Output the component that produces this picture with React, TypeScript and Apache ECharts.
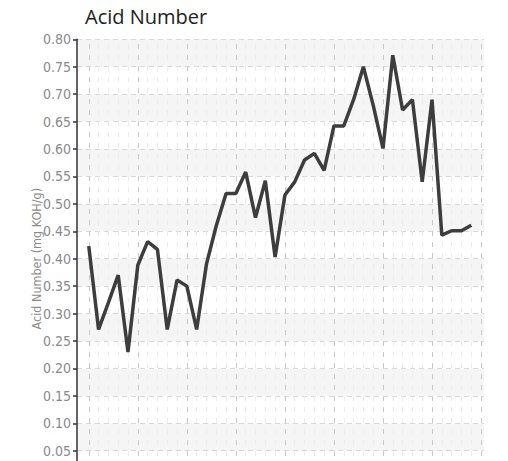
import React, { useEffect, useRef } from "react";
import * as echarts from "echarts";

const values: number[] = [
  0.423, 0.271, 0.32, 0.37, 0.23, 0.388, 0.431, 0.417, 0.271, 0.361,
  0.35, 0.271, 0.39, 0.46, 0.519, 0.519, 0.558, 0.475, 0.542, 0.403,
  0.516, 0.54, 0.58, 0.592, 0.561, 0.642, 0.642, 0.69, 0.75, 0.68,
  0.601, 0.771, 0.671, 0.69, 0.54, 0.69, 0.443, 0.451, 0.451, 0.461,
];
const sampleIndex: number[] = values.map((_, i) => i);
const gridIndex: number[] = Array.from({ length: 41 }, (_, i) => i);

const TITLE = "Acid Number";
const Y_NAME = "Acid Number (mg KOH/g)";

export default function App() {
  const ref = useRef<HTMLDivElement>(null);
  useEffect(() => {
    if (!ref.current) return;
    const chart = echarts.init(ref.current, undefined, { renderer: "svg" });
    chart.setOption({
      animation: false,
      backgroundColor: "#ffffff",
      title: {
        text: TITLE,
        left: 80,
        top: 1,
        textStyle: {
          fontFamily: "Open Sans",
          fontSize: 20,
          fontWeight: "normal",
          color: "#222",
        },
      },
      grid: { left: 77, top: 39.3, right: 24, bottom: 21.9 },
      xAxis: {
        type: "value",
        min: -1.2,
        max: 40.3,
        axisLine: { show: false },
        axisTick: { show: false },
        axisLabel: { show: false },
        splitLine: { show: false },
      },
      yAxis: {
        type: "value",
        min: 0,
        max: 0.8,
        interval: 0.05,
        name: Y_NAME,
        nameLocation: "middle",
        nameGap: 34,
        nameMoveOverlap: false,
        nameTextStyle: {
          color: "#8a8a8a",
          fontSize: 12.5,
          fontFamily: "Liberation Sans Narrow, DejaVu Sans Condensed, sans-serif",
        },
        axisLine: { show: true, onZero: false, lineStyle: { color: "#333", width: 1.5 } },
        axisTick: { show: true, inside: false, length: 4, lineStyle: { color: "#333", width: 1.5 } },
        axisLabel: {
          color: "#8a8a8a",
          fontSize: 14,
          margin: 6,
          fontFamily: "Liberation Sans Narrow, DejaVu Sans Condensed, sans-serif",
          formatter: (v: number) => v.toFixed(2),
        },
        splitLine: {
          show: true,
          lineStyle: { color: "#d8d8d8", type: [5, 4], width: 1 },
        },
        splitArea: {
          show: true,
          areaStyle: { color: ["#ffffff", "#f5f5f5"] },
        },
      },
      series: [
        {
          type: "line",
          z: 3,
          data: sampleIndex.map((i) => [i, values[i]]),
          symbol: "none",
          lineStyle: { color: "#3d3d3d", width: 3.5 },
          markLine: {
            z: 1,
            silent: true,
            symbol: "none",
            label: { show: false },
            data: gridIndex.map((i) => ({
              xAxis: i,
              lineStyle: {
                color: i % 5 === 0 ? "#c8c8c8" : "#ededed",
                type: [5, 6],
                width: 1,
              },
            })),
          },
        },
      ],
    });
    return () => chart.dispose();
  }, []);
  return (
    <div
      style={{
        position: "fixed",
        left: 0,
        top: 0,
        width: 508,
        height: 461,
        overflow: "hidden",
        background: "#fff",
      }}
    >
      <div ref={ref} style={{ width: 508, height: 500 }} />
    </div>
  );
}
